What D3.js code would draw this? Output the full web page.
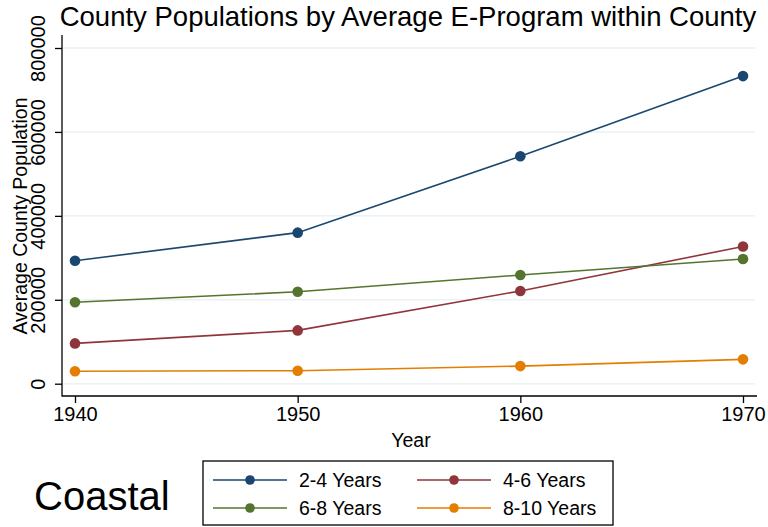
<!DOCTYPE html>
<html><head><meta charset="utf-8">
<script src="https://cdn.jsdelivr.net/npm/d3@7"></script>
<style>body{margin:0;background:#fff}svg{display:block}text{font-family:"Liberation Sans",Arial,sans-serif;fill:#000}</style>
</head><body>
<svg id="c" width="768" height="527"></svg>
<script>
const years = [1940, 1950, 1960, 1970];
const seriesNames = ["2-4 Years", "4-6 Years", "6-8 Years", "8-10 Years"];
const s24 = [293000, 360000, 542000, 733000];
const s46 = [96000, 127000, 221000, 327000];
const s68 = [194000, 219000, 259000, 297000];
const s810 = [29500, 31000, 42000, 58000];
const yTicks = [0, 200000, 400000, 600000, 800000];
const colors = ["#1a476f", "#90353b", "#55752f", "#e37e00"];
const seriesVals = [s24, s46, s68, s810];

const svg = d3.select("#c");
const x = d3.scaleLinear().domain([1940, 1970]).range([75, 743]);
const y = d3.scaleLinear().domain([0, 800000]).range([383.7, 48]);
const L = 62, R = 757, T = 35, B = 396;

// gridlines
svg.append("g").selectAll("line").data(yTicks).join("line")
  .attr("x1", L + 1).attr("x2", 755).attr("y1", d => y(d)).attr("y2", d => y(d))
  .attr("stroke", "#eaf2f3").attr("stroke-width", 1.5);

// y axis
const ya = svg.append("g").attr("transform", `translate(${L},0)`)
  .call(d3.axisLeft(y).tickValues(yTicks).tickSize(7).tickPadding(4).tickFormat(d3.format("d")));
ya.select(".domain").remove();
ya.selectAll(".tick line").attr("stroke", "#000").attr("stroke-width", 1.3);
ya.selectAll(".tick text").attr("transform", "rotate(-90)").attr("x", 0).attr("y", -17)
  .attr("text-anchor", "middle").attr("dy", 0).style("font-size", "20px");
svg.append("line").attr("x1", L).attr("x2", L).attr("y1", T).attr("y2", B + 0.5).attr("stroke", "#000").attr("stroke-width", 1.3);

// x axis
const xa = svg.append("g").attr("transform", `translate(0,${B})`)
  .call(d3.axisBottom(x).tickValues(years).tickSize(7).tickPadding(4).tickFormat(d3.format("d")));
xa.select(".domain").remove();
xa.selectAll(".tick line").attr("stroke", "#000").attr("stroke-width", 1.3);
xa.selectAll(".tick text").style("font-size", "20px");
svg.append("line").attr("x1", L).attr("x2", R).attr("y1", B).attr("y2", B).attr("stroke", "#000").attr("stroke-width", 1.3);

// lines
const line = d3.line().x((d, i) => x(years[i])).y(d => y(d));
seriesVals.forEach((vals, k) => {
  svg.append("path").datum(vals).attr("d", line).attr("fill", "none")
    .attr("stroke", colors[k]).attr("stroke-width", 1.6);
  svg.append("g").selectAll("circle").data(vals).join("circle")
    .attr("cx", (d, i) => x(years[i])).attr("cy", d => y(d)).attr("r", 5.3).attr("fill", colors[k]);
});

// titles
svg.append("text").attr("x", 408).attr("y", 26).attr("text-anchor", "middle").style("font-size", "27.5px")
  .text("County Populations by Average E-Program within County");
svg.append("text").attr("x", 411).attr("y", 447).attr("text-anchor", "middle").style("font-size", "19.5px").text("Year");
svg.append("text").attr("transform", "translate(27,216) rotate(-90)").attr("text-anchor", "middle").style("font-size", "19.5px")
  .text("Average County Population");
svg.append("text").attr("x", 34).attr("y", 510).style("font-size", "40px").text("Coastal");

// legend
svg.append("rect").attr("x", 203).attr("y", 461).attr("width", 410).attr("height", 64)
  .attr("fill", "#fff").attr("stroke", "#000").attr("stroke-width", 1.3);
const legPos = [[213, 480], [417, 480], [213, 508], [417, 508]];
seriesNames.forEach((n, k) => {
  const [lx, ly] = legPos[k];
  svg.append("line").attr("x1", lx).attr("x2", lx + 74).attr("y1", ly).attr("y2", ly).attr("stroke", colors[k]).attr("stroke-width", 1.6);
  svg.append("circle").attr("cx", lx + 37).attr("cy", ly).attr("r", 4.8).attr("fill", colors[k]);
  svg.append("text").attr("x", lx + 86).attr("y", ly + 7).style("font-size", "19.5px").text(n);
});
</script>
</body></html>
